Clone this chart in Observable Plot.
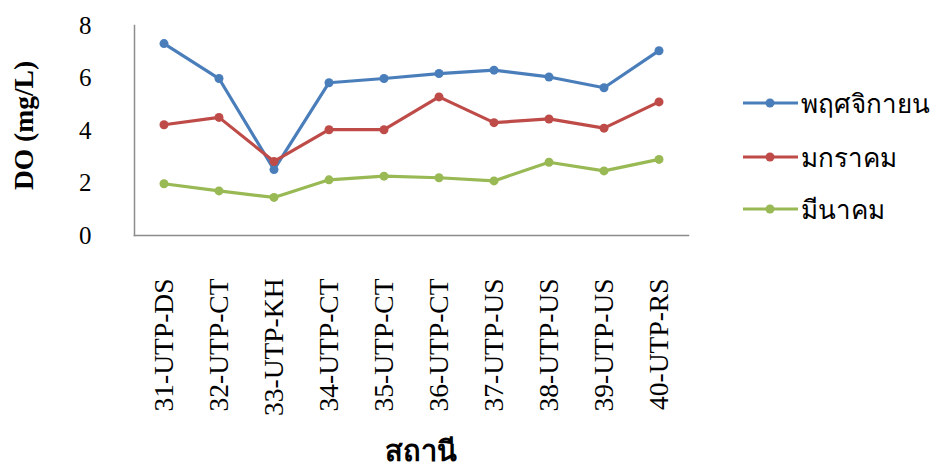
<!DOCTYPE html>
<html>
<head>
<meta charset="utf-8">
<script src="https://cdn.jsdelivr.net/npm/d3@7"></script>
<script src="https://cdn.jsdelivr.net/npm/@observablehq/plot@0.6"></script>
<style>
  html, body { margin: 0; padding: 0; background: #fff; }
  #wrap { position: relative; width: 935px; height: 467px; }
  #legend { position: absolute; left: 743px; top: 0; font-family: "Liberation Serif", serif; }
  .item { position: absolute; left: 0; display: flex; align-items: center; white-space: nowrap; }
  .item span { font-size: 26px; color: #000; margin-left: 3px; }
</style>
</head>
<body>
<div id="wrap"><div id="legend"></div></div>
<script>
const stations = ["31-UTP-DS","32-UTP-CT","33-UTP-KH","34-UTP-CT","35-UTP-CT","36-UTP-CT","37-UTP-US","38-UTP-US","39-UTP-US","40-UTP-RS"];
const seriesNames = ["พฤศจิกายน","มกราคม","มีนาคม"];
const seriesColors = ["#4A7EBB","#BE4B48","#98B954"];
const novValues = [7.31, 5.98, 2.51, 5.82, 5.98, 6.17, 6.30, 6.04, 5.63, 7.04];
const janValues = [4.22, 4.50, 2.82, 4.03, 4.03, 5.28, 4.30, 4.44, 4.09, 5.09];
const marValues = [1.97, 1.70, 1.45, 2.12, 2.26, 2.20, 2.08, 2.79, 2.46, 2.90];
const yTicks = [0, 2, 4, 6, 8];
const yLabel = "DO (mg/L)";
const xLabel = "สถานี";

const allValues = [novValues, janValues, marValues];
const data = [];
allValues.forEach((vals, si) => vals.forEach((v, i) => data.push({station: stations[i], series: seriesNames[si], value: v})));

const font = "Liberation Serif, serif";
const chart = Plot.plot({
  width: 935,
  height: 467,
  marginLeft: 134,
  marginRight: 247,
  marginTop: 25,
  marginBottom: 232,
  style: {fontFamily: font, fontSize: "25px", color: "#000", background: "#fff"},
  x: {type: "band", domain: stations, padding: 0},
  y: {domain: [0, 8]},
  color: {domain: seriesNames, range: seriesColors},
  marks: [
    Plot.axisY({ticks: yTicks, tickSize: 0, tickPadding: 43, label: null, fontSize: 25}),
    Plot.axisX({tickSize: 0, tickRotate: -90, tickPadding: 43, label: null, fontSize: 27.5}),
    Plot.frame({anchor: "left", stroke: "#8c8c8c", strokeWidth: 1.5}),
    Plot.frame({anchor: "bottom", stroke: "#8c8c8c", strokeWidth: 1.5}),
    Plot.line(data, {x: "station", y: "value", z: "series", stroke: "series", strokeWidth: 3.2}),
    Plot.dot(data, {x: "station", y: "value", fill: "series", r: 4.5}),
    Plot.text([yLabel], {frameAnchor: "left", textAnchor: "middle", dx: -110, dy: -5, rotate: -90, text: d => d, fontFamily: "Liberation Serif", fontWeight: "bold", fontSize: 27.5, fill: "#000"}),
    Plot.text([xLabel], {frameAnchor: "bottom", dx: 9, dy: 225, text: d => d, fontFamily: "Liberation Serif", fontWeight: "bold", fontSize: 29, fill: "#000"})
  ]
});
document.getElementById("wrap").prepend(chart);

const legend = document.getElementById("legend");
const legendTops = [103, 157, 209];
seriesNames.forEach((name, i) => {
  const item = document.createElement("div");
  item.className = "item";
  item.style.top = (legendTops[i] - 18) + "px";
  item.style.height = "36px";
  const c = seriesColors[i];
  item.innerHTML = `<svg width="55" height="12"><line x1="0" x2="55" y1="6" y2="6" stroke="${c}" stroke-width="3.2"/><circle cx="27" cy="6" r="4.5" fill="${c}"/></svg><span>${name}</span>`;
  legend.appendChild(item);
});
</script>
</body>
</html>
